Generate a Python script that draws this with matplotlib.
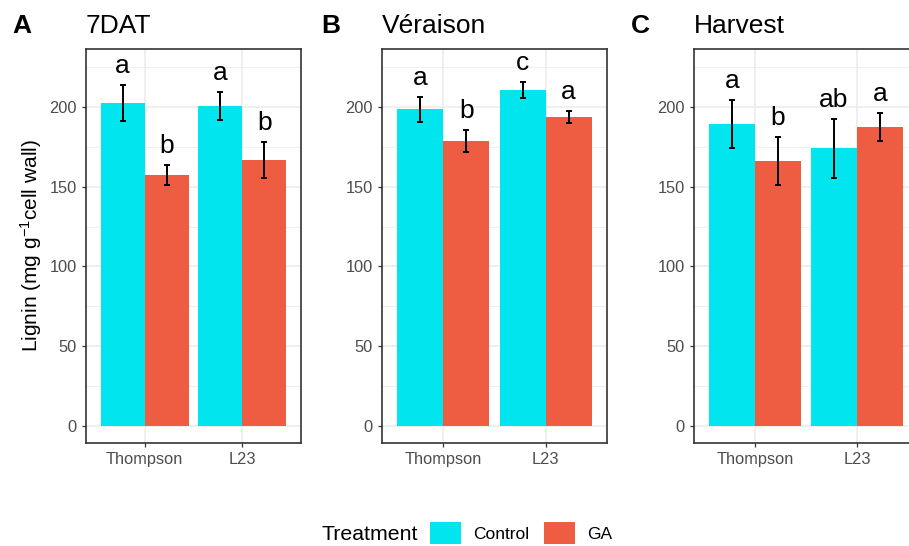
import numpy as np
import matplotlib
matplotlib.use("Agg")
from matplotlib import pyplot as plt
from matplotlib.patches import Patch

plt.rcParams['font.family'] = ['Liberation Sans', 'DejaVu Sans']
plt.rcParams['mathtext.fontset'] = 'custom'
plt.rcParams['mathtext.rm'] = 'Liberation Sans'
plt.rcParams['mathtext.it'] = 'Liberation Sans:italic'

# data
panels = ["A", "B", "C"]
stages = ["7DAT", "Véraison", "Harvest"]
cultivars = ["Thompson", "L23"]
treatments = ["Control", "GA"]

control_mean = [[202.5, 200.6], [198.5, 210.7], [189.3, 174.3]]
control_err = [[11.3, 8.7], [8.0, 5.2], [15.2, 18.5]]
ga_mean = [[157.4, 166.8], [178.7, 193.7], [166.1, 187.5]]
ga_err = [[6.0, 11.5], [7.0, 3.9], [15.0, 9.0]]

control_letters = [["a", "a"], ["a", "c"], ["a", "ab"]]
ga_letters = [["b", "b"], ["b", "a"], ["b", "a"]]

colors = {"Control": "#00E5EE", "GA": "#EE5C42"}

W, H = 909, 546
fig = plt.figure(figsize=(W / 100, H / 100), dpi=100)

# axes boxes in pixels: left, right; tag x positions
boxes = [(86, 301), (382, 607), (694, 918)]
tag_x = [12, 321, 631]
top_px, bot_px = 49, 443

for i in range(3):
    l, r = boxes[i]
    ax = fig.add_axes([l / W, (H - bot_px) / H, (r - l) / W, (bot_px - top_px) / H])
    x = np.arange(1, len(cultivars) + 1)
    bw = 0.45
    for t, means, errs, letters, off in [
        ("Control", control_mean[i], control_err[i], control_letters[i], -bw / 2),
        ("GA", ga_mean[i], ga_err[i], ga_letters[i], bw / 2),
    ]:
        ax.bar(x + off, means, width=bw, color=colors[t], zorder=2)
        ax.errorbar(x + off, means, yerr=errs, fmt="none", ecolor="black",
                    elinewidth=1.4, capsize=2.5, capthick=1.4, zorder=3)
        for xi, m, e, lab in zip(x + off, means, errs, letters):
            ax.text(xi, m + e + 7.5, lab, ha="center", va="baseline",
                    fontsize=19, color="black", zorder=4)

    ax.set_xlim(0.4, 2.6)
    ax.set_ylim(-10.7, 236.4)
    ax.set_xticks(x)
    ax.set_xticklabels(cultivars)
    ax.set_yticks(np.arange(0, 201, 50))
    ax.set_yticks(np.arange(25, 226, 50), minor=True)
    ax.grid(which="major", color="#EBEBEB", linewidth=1.1, zorder=0)
    ax.grid(which="minor", axis="y", color="#EBEBEB", linewidth=0.55, zorder=0)
    ax.set_axisbelow(True)
    ax.tick_params(axis="both", which="major", length=3, width=0.9, color="#333333",
                   labelcolor="#4D4D4D", labelsize=11.8, pad=3.5)
    ax.tick_params(axis="y", which="minor", length=0)
    for s in ax.spines.values():
        s.set_color("#333333")
        s.set_linewidth(1.2)

    fig.text(l / W, 1 - 33 / H, stages[i], ha="left", va="baseline",
             fontsize=19, color="black")
    fig.text(tag_x[i] / W, 1 - 33 / H, panels[i], ha="left", va="baseline",
             fontsize=19, fontweight="bold", color="black")

    if i == 0:
        ax.set_ylabel("Lignin (mg g$^{-1}$cell wall)", fontsize=15, labelpad=4)

# legend along the bottom
fig.text(322 / W, 1 - 535 / H, "Treatment", ha="left", va="center", fontsize=15.3)
handles = [Patch(facecolor=colors[t], edgecolor="none") for t in treatments]
fig.legend(handles, treatments, loc="center left", bbox_to_anchor=(430 / W, 1 - 533 / H),
           ncol=2, frameon=False, fontsize=12.5, handlelength=1.78, handleheight=1.6,
           handletextpad=0.7, columnspacing=0.85, borderpad=0, borderaxespad=0)

fig.savefig("out.png", dpi=100)
